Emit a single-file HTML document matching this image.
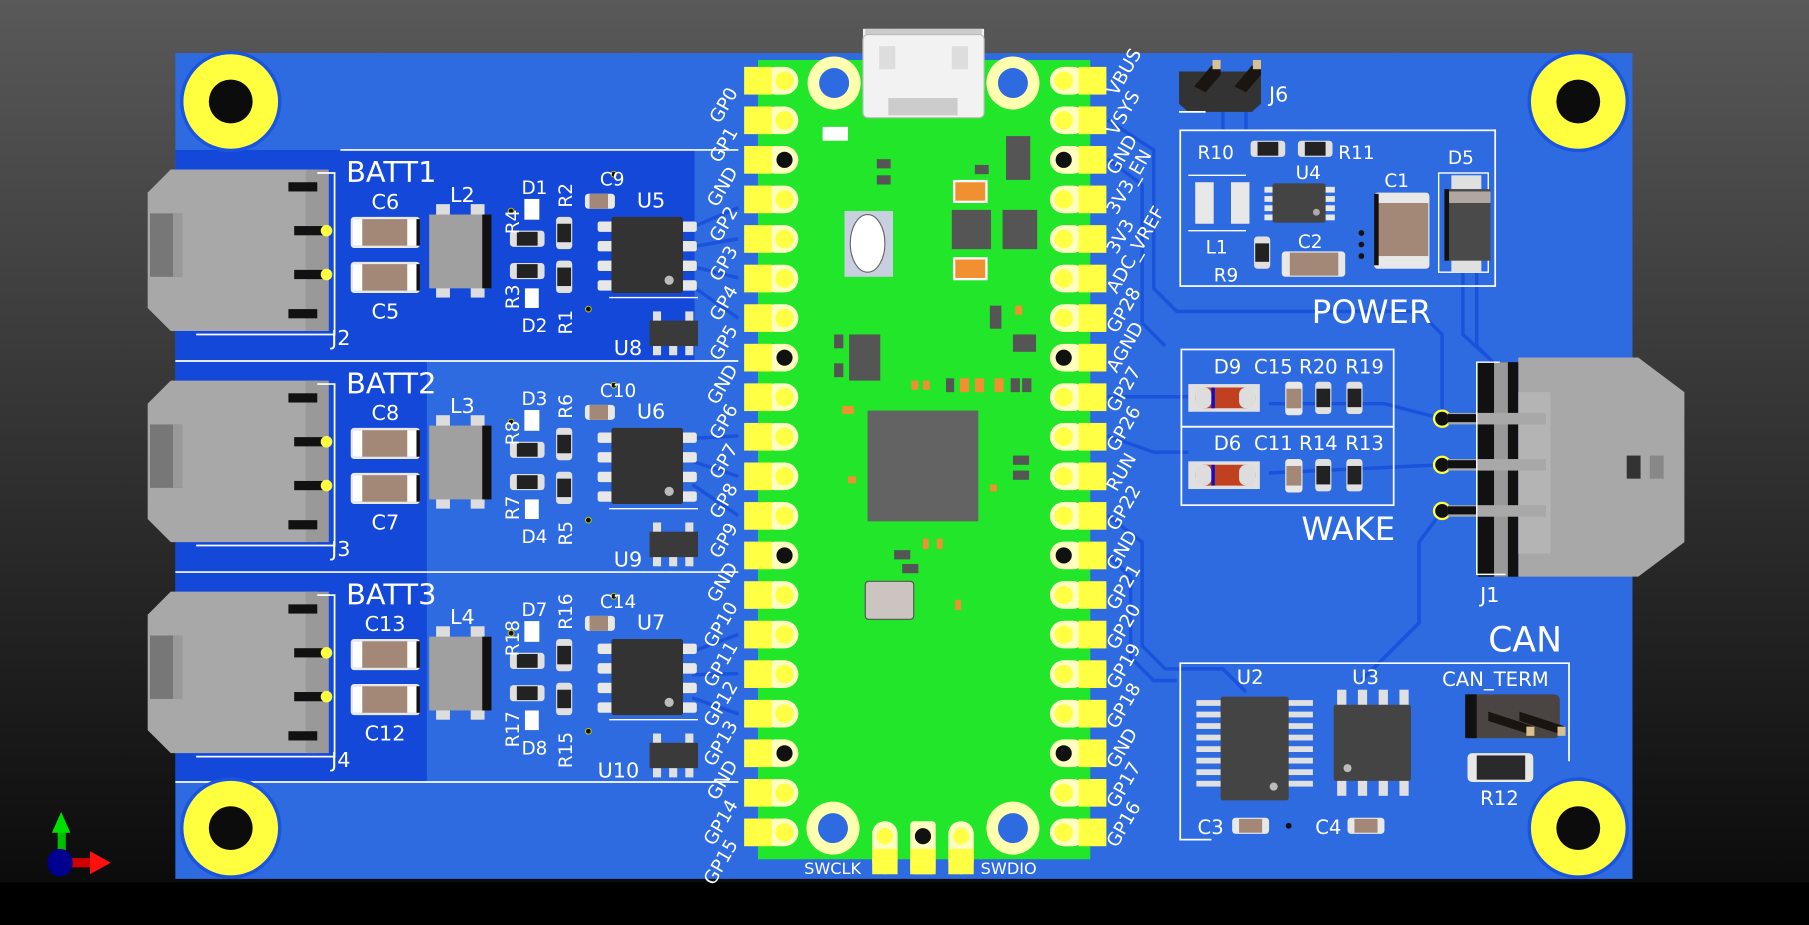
<!DOCTYPE html>
<html><head><meta charset="utf-8"><style>
html,body{margin:0;padding:0;background:#000;}
svg{display:block;}
text{font-family:"DejaVu Sans","Liberation Sans",sans-serif;fill:#fff;}
</style></head><body>
<svg width="1809" height="925" viewBox="0 0 1568 802" preserveAspectRatio="none" xmlns="http://www.w3.org/2000/svg">
<defs>
<linearGradient id="bg" x1="0" y1="0" x2="0" y2="1">
<stop offset="0" stop-color="#595959"/><stop offset="0.95" stop-color="#0c0c0c"/><stop offset="1" stop-color="#000"/>
</linearGradient>
<g id="pl"><rect x="660" y="-12" width="32" height="24" rx="12" fill="#ffffc0"/><rect x="645" y="-12" width="24" height="24" fill="#ffff44"/><circle cx="680" cy="0" r="8" fill="#ffff44"/></g>
<g id="plg"><rect x="660" y="-12" width="32" height="24" rx="12" fill="#ffffc0"/><rect x="645" y="-12" width="24" height="24" fill="#ffff44"/><circle cx="680" cy="0" r="7" fill="#111"/></g>
<g id="pr"><rect x="910" y="-12" width="32" height="24" rx="12" fill="#ffffc0"/><rect x="935" y="-12" width="24" height="24" fill="#ffff44"/><circle cx="922" cy="0" r="8" fill="#ffff44"/></g>
<g id="prg"><rect x="910" y="-12" width="32" height="24" rx="12" fill="#ffffc0"/><rect x="935" y="-12" width="24" height="24" fill="#ffff44"/><circle cx="922" cy="0" r="7" fill="#111"/></g>
<g id="mh"><circle r="44" fill="#1a55e0"/><circle r="41" fill="#ffff40"/><circle r="19" fill="#0c0c0c"/></g>
<g id="capH"><rect x="-2" y="-2" width="60" height="27" rx="3" fill="#e8e8e8"/><rect x="0" y="0" width="55" height="23" fill="#a38878"/><rect x="0" y="0" width="8" height="23" fill="#fff"/><rect x="47" y="0" width="8" height="23" fill="#fff"/><rect x="55" y="0" width="3" height="23" fill="#111"/></g>
<g id="resH"><rect x="0" y="0" width="30" height="14" rx="3" fill="#e0e0e0"/><rect x="6" y="1" width="18" height="12" fill="#222"/></g>
<g id="resV"><rect x="0" y="0" width="14" height="28" rx="3" fill="#e0e0e0"/><rect x="1" y="6" width="12" height="16" fill="#222"/></g>
<g id="soic"><rect x="-12" y="4" width="14" height="9" rx="2" fill="#e8e8e8"/><rect x="-12" y="21" width="14" height="9" rx="2" fill="#e8e8e8"/><rect x="-12" y="38" width="14" height="9" rx="2" fill="#e8e8e8"/><rect x="-12" y="55" width="14" height="9" rx="2" fill="#e8e8e8"/><rect x="60" y="4" width="14" height="9" rx="2" fill="#e8e8e8"/><rect x="60" y="21" width="14" height="9" rx="2" fill="#e8e8e8"/><rect x="60" y="38" width="14" height="9" rx="2" fill="#e8e8e8"/><rect x="60" y="55" width="14" height="9" rx="2" fill="#e8e8e8"/><rect x="0" y="0" width="62" height="66" rx="2" fill="#333"/><circle cx="50" cy="55" r="4" fill="#bbb"/></g>
<g id="sot"><rect x="3" y="-8" width="7" height="10" fill="#e0e0e0"/><rect x="31" y="-8" width="7" height="10" fill="#e0e0e0"/><rect x="3" y="20" width="7" height="10" fill="#e0e0e0"/><rect x="17" y="20" width="7" height="10" fill="#e0e0e0"/><rect x="31" y="20" width="7" height="10" fill="#e0e0e0"/><rect x="0" y="0" width="42" height="22" fill="#3a3a3a"/></g>
<g id="blk">
<polygon points="148,147 275,147 275,287 148,287 128,267 128,167" fill="#a8a8a8"/>
<rect x="130" y="185" width="28" height="55" fill="#777"/><rect x="150" y="185" width="8" height="55" fill="#999"/>
<rect x="265" y="147" width="20" height="140" fill="#999"/>
<rect x="250" y="158" width="25" height="8" fill="#111"/><rect x="255" y="196" width="25" height="8" fill="#111"/><rect x="255" y="234" width="25" height="8" fill="#111"/><rect x="250" y="268" width="25" height="8" fill="#111"/>
<polyline points="275,150 290,150 290,290 170,290" fill="none" stroke="#fff" stroke-width="1.5"/>
<circle cx="283" cy="200" r="5" fill="#ffff40"/><circle cx="283" cy="238" r="5" fill="#ffff40"/>
<use href="#capH" x="306" y="190"/><use href="#capH" x="306" y="229"/>
<rect x="378" y="177" width="12" height="10" fill="#ddd"/><rect x="408" y="177" width="12" height="10" fill="#ddd"/><rect x="378" y="248" width="12" height="10" fill="#ddd"/><rect x="408" y="248" width="12" height="10" fill="#ddd"/>
<rect x="372" y="186" width="52" height="64" fill="#a0a0a0"/><rect x="418" y="186" width="8" height="64" fill="#111"/>
<rect x="455" y="173" width="12" height="17" fill="#fff" stroke="#ffd" stroke-width="1"/>
<rect x="455" y="250" width="12" height="17" fill="#fff"/>
<use href="#resH" x="442" y="200"/><use href="#resH" x="442" y="228"/>
<use href="#resV" x="482" y="188"/><use href="#resV" x="482" y="226"/>
<rect x="507" y="168" width="26" height="13" rx="3" fill="#e8e8e8"/><rect x="511" y="168" width="16" height="13" fill="#a38878"/>
<circle cx="532" cy="151" r="2.5" fill="#111" stroke="#cc0" stroke-width="0.8"/><circle cx="510" cy="268" r="2.5" fill="#111" stroke="#cc0" stroke-width="0.8"/><circle cx="443" cy="183" r="2.5" fill="#111" stroke="#cc0" stroke-width="0.8"/>
<use href="#soic" x="530" y="188"/>
<line x1="528" y1="258" x2="605" y2="258" stroke="#fff" stroke-width="1.2"/>
<use href="#sot" x="563" y="278"/>
</g>
</defs>
<rect width="1568" height="802" fill="url(#bg)"/>
<rect x="0" y="765" width="1568" height="37" fill="#000"/>
<rect x="152" y="46" width="1263" height="716" fill="#2e6be0"/>
<rect x="152" y="130" width="450" height="183" fill="#1448d8"/>
<rect x="152" y="313" width="218" height="183" fill="#1448d8"/>
<rect x="152" y="496" width="218" height="182" fill="#1448d8"/>
<g fill="none" stroke="#1a52dc" stroke-width="3">
<path d="M960,104 L1000,130 L1000,250 L1020,270 L1230,270 L1250,290 L1250,363"/>
<path d="M960,138 L990,160 L990,280 L1010,300"/>
<path d="M960,344 L1030,344"/><path d="M960,378 L1000,392 L1030,392"/>
<path d="M960,447 L990,470 L990,560 L1010,580 L1060,580 L1080,600"/>
<path d="M960,481 L980,500 L980,570 L1000,590 L1020,590"/>
<path d="M1100,350 L1200,350 L1250,363"/><path d="M1100,410 L1250,403"/>
<path d="M1250,443 L1230,470 L1230,540 L1180,590"/>
<path d="M1280,236 L1280,300 L1300,320"/><path d="M1268,236 L1268,290 L1290,310"/>
<path d="M600,197 L640,180"/><path d="M600,214 L640,207"/><path d="M600,231 L640,241"/><path d="M600,248 L640,276"/>
<path d="M600,380 L640,378"/><path d="M600,400 L640,413"/><path d="M600,420 L640,447"/>
<path d="M600,565 L640,550"/><path d="M600,585 L640,584"/><path d="M600,605 L640,619"/>
<path d="M1060,88 L1060,113"/><path d="M1080,88 L1080,113"/>
</g>
<g stroke="#fff" stroke-width="1.5">
<line x1="295" y1="130" x2="640" y2="130"/><line x1="152" y1="313" x2="640" y2="313"/>
<line x1="152" y1="496" x2="640" y2="496"/><line x1="152" y1="678" x2="640" y2="678"/>
</g>
<use href="#mh" x="200" y="88"/><use href="#mh" x="1368" y="88"/><use href="#mh" x="200" y="718"/><use href="#mh" x="1368" y="718"/>
<use href="#blk"/><use href="#blk" y="183"/><use href="#blk" y="366"/>
<g font-size="16">
<text x="300" y="158" font-size="25">BATT1</text><text x="322" y="181" font-size="18">C6</text><text x="322" y="276" font-size="18">C5</text><text x="390" y="175" font-size="18">L2</text>
<text x="452" y="168">D1</text><text x="452" y="288">D2</text><text x="287" y="299" font-size="18">J2</text><text x="552" y="180" font-size="18">U5</text><text x="520" y="161">C9</text><text x="532" y="308" font-size="18">U8</text>
<text transform="translate(450,203) rotate(-90)">R4</text><text transform="translate(450,268) rotate(-90)">R3</text><text transform="translate(496,180) rotate(-90)">R2</text><text transform="translate(496,290) rotate(-90)">R1</text>
<text x="300" y="341" font-size="25">BATT2</text><text x="322" y="364" font-size="18">C8</text><text x="322" y="459" font-size="18">C7</text><text x="390" y="358" font-size="18">L3</text>
<text x="452" y="351">D3</text><text x="452" y="471">D4</text><text x="287" y="482" font-size="18">J3</text><text x="552" y="363" font-size="18">U6</text><text x="520" y="344">C10</text><text x="532" y="491" font-size="18">U9</text>
<text transform="translate(450,386) rotate(-90)">R8</text><text transform="translate(450,451) rotate(-90)">R7</text><text transform="translate(496,363) rotate(-90)">R6</text><text transform="translate(496,473) rotate(-90)">R5</text>
<text x="300" y="524" font-size="25">BATT3</text><text x="316" y="547" font-size="18">C13</text><text x="316" y="642" font-size="18">C12</text><text x="390" y="541" font-size="18">L4</text>
<text x="452" y="534">D7</text><text x="452" y="654">D8</text><text x="287" y="665" font-size="18">J4</text><text x="552" y="546" font-size="18">U7</text><text x="520" y="527">C14</text><text x="518" y="674" font-size="18">U10</text>
<text transform="translate(450,569) rotate(-90)">R18</text><text transform="translate(450,648) rotate(-90)">R17</text><text transform="translate(496,546) rotate(-90)">R16</text><text transform="translate(496,666) rotate(-90)">R15</text>
</g>
<rect x="748" y="25" width="105" height="78" fill="#f0f0f0"/><rect x="750" y="25" width="101" height="8" fill="#ccc"/>
<rect x="657" y="52" width="288" height="693" fill="#22e62a"/>
<rect x="748" y="30" width="105" height="72" rx="4" fill="#f2f2f2" stroke="#bbb"/>
<rect x="762" y="40" width="14" height="20" fill="#ddd"/><rect x="825" y="40" width="14" height="20" fill="#ddd"/>
<rect x="770" y="85" width="60" height="15" fill="#ccc"/>
<circle cx="723" cy="72" r="23" fill="#ffffb0"/><circle cx="723" cy="72" r="13" fill="#2e6be0"/>
<circle cx="878" cy="72" r="23" fill="#ffffb0"/><circle cx="878" cy="72" r="13" fill="#2e6be0"/>
<circle cx="722" cy="718" r="23" fill="#ffffb0"/><circle cx="722" cy="718" r="13" fill="#2e6be0"/>
<circle cx="878" cy="718" r="23" fill="#ffffb0"/><circle cx="878" cy="718" r="13" fill="#2e6be0"/>
<g><rect x="756" y="712" width="22" height="46" rx="11" fill="#ffffc0"/><rect x="756" y="736" width="22" height="22" fill="#ffff44"/><circle cx="767" cy="725" r="7" fill="#ffff44"/>
<rect x="789" y="712" width="22" height="46" rx="3" fill="#ffffc0"/><rect x="789" y="736" width="22" height="22" fill="#ffff44"/><circle cx="800" cy="725" r="7" fill="#111"/>
<rect x="822" y="712" width="22" height="46" rx="11" fill="#ffffc0"/><rect x="822" y="736" width="22" height="22" fill="#ffff44"/><circle cx="833" cy="725" r="7" fill="#ffff44"/></g>
<text x="697" y="758" font-size="14">SWCLK</text><text x="850" y="758" font-size="14">SWDIO</text>
<rect x="713" y="110" width="22" height="12" fill="#fff"/>
<rect x="760" y="138" width="12" height="8" fill="#555"/><rect x="760" y="152" width="12" height="8" fill="#555"/><rect x="845" y="143" width="12" height="8" fill="#555"/>
<rect x="872" y="118" width="21" height="38" fill="#555"/>
<rect x="827" y="157" width="28" height="18" fill="#f09030" stroke="#fff" stroke-width="2"/><rect x="827" y="224" width="28" height="18" fill="#f09030" stroke="#fff" stroke-width="2"/>
<rect x="825" y="182" width="34" height="34" fill="#555"/><rect x="869" y="182" width="30" height="34" fill="#555"/>
<rect x="732" y="183" width="42" height="57" fill="#c8d0e0"/><ellipse cx="752" cy="211" rx="15" ry="25" fill="#fff" stroke="#666"/>
<rect x="736" y="290" width="27" height="40" fill="#555"/><rect x="723" y="290" width="8" height="12" fill="#555"/><rect x="723" y="315" width="8" height="12" fill="#555"/>
<rect x="858" y="265" width="10" height="20" fill="#555"/><rect x="878" y="290" width="20" height="15" fill="#555"/><rect x="880" y="265" width="6" height="8" fill="#f09030"/>
<rect x="752" y="356" width="96" height="96" fill="#636363"/>
<g fill="#f09030"><rect x="790" y="330" width="6" height="8"/><rect x="800" y="330" width="6" height="8"/><rect x="832" y="328" width="8" height="12"/><rect x="845" y="328" width="8" height="12"/><rect x="862" y="328" width="8" height="12"/><rect x="730" y="352" width="10" height="7"/><rect x="735" y="413" width="7" height="6"/><rect x="858" y="420" width="6" height="6"/><rect x="800" y="467" width="5" height="9"/><rect x="812" y="467" width="5" height="9"/><rect x="828" y="520" width="5" height="9"/></g>
<g fill="#555"><rect x="820" y="328" width="7" height="12"/><rect x="876" y="328" width="8" height="12"/><rect x="886" y="328" width="8" height="12"/><rect x="878" y="395" width="14" height="8"/><rect x="878" y="408" width="14" height="8"/><rect x="775" y="477" width="14" height="8"/><rect x="782" y="489" width="14" height="8"/></g>
<rect x="750" y="504" width="42" height="33" rx="3" fill="#ccc4c0" stroke="#555"/>
<use href="#pl" y="70"/><use href="#pl" y="104.3"/><use href="#plg" y="138.6"/><use href="#pl" y="172.9"/><use href="#pl" y="207.2"/><use href="#pl" y="241.5"/><use href="#pl" y="275.8"/><use href="#plg" y="310.1"/><use href="#pl" y="344.4"/><use href="#pl" y="378.7"/><use href="#pl" y="413"/><use href="#pl" y="447.3"/><use href="#plg" y="481.6"/><use href="#pl" y="515.9"/><use href="#pl" y="550.2"/><use href="#pl" y="584.5"/><use href="#pl" y="618.8"/><use href="#plg" y="653.1"/><use href="#pl" y="687.4"/><use href="#pl" y="721.7"/>
<use href="#pr" y="70"/><use href="#pr" y="104.3"/><use href="#prg" y="138.6"/><use href="#pr" y="172.9"/><use href="#pr" y="207.2"/><use href="#pr" y="241.5"/><use href="#pr" y="275.8"/><use href="#prg" y="310.1"/><use href="#pr" y="344.4"/><use href="#pr" y="378.7"/><use href="#pr" y="413"/><use href="#pr" y="447.3"/><use href="#prg" y="481.6"/><use href="#pr" y="515.9"/><use href="#pr" y="550.2"/><use href="#pr" y="584.5"/><use href="#pr" y="618.8"/><use href="#prg" y="653.1"/><use href="#pr" y="687.4"/><use href="#pr" y="721.7"/>
<g font-size="16" text-anchor="end">
<text transform="translate(640,80) rotate(-60)">GP0</text><text transform="translate(640,114.3) rotate(-60)">GP1</text><text transform="translate(640,148.6) rotate(-60)">GND</text><text transform="translate(640,182.9) rotate(-60)">GP2</text><text transform="translate(640,217.2) rotate(-60)">GP3</text><text transform="translate(640,251.5) rotate(-60)">GP4</text><text transform="translate(640,285.8) rotate(-60)">GP5</text><text transform="translate(640,320.1) rotate(-60)">GND</text><text transform="translate(640,354.4) rotate(-60)">GP6</text><text transform="translate(640,388.7) rotate(-60)">GP7</text><text transform="translate(640,423) rotate(-60)">GP8</text><text transform="translate(640,457.3) rotate(-60)">GP9</text><text transform="translate(640,491.6) rotate(-60)">GND</text><text transform="translate(640,525.9) rotate(-60)">GP10</text><text transform="translate(640,560.2) rotate(-60)">GP11</text><text transform="translate(640,594.5) rotate(-60)">GP12</text><text transform="translate(640,628.8) rotate(-60)">GP13</text><text transform="translate(640,663.1) rotate(-60)">GND</text><text transform="translate(640,697.4) rotate(-60)">GP14</text><text transform="translate(640,731.7) rotate(-60)">GP15</text>
</g>
<g font-size="16">
<text transform="translate(968,84) rotate(-60)">VBUS</text><text transform="translate(968,118.3) rotate(-60)">VSYS</text><text transform="translate(968,152.6) rotate(-60)">GND</text><text transform="translate(968,186.9) rotate(-60)">3V3_EN</text><text transform="translate(968,221.2) rotate(-60)">3V3</text><text transform="translate(968,255.5) rotate(-60)">ADC_VREF</text><text transform="translate(968,289.8) rotate(-60)">GP28</text><text transform="translate(968,324.1) rotate(-60)">AGND</text><text transform="translate(968,358.4) rotate(-60)">GP27</text><text transform="translate(968,392.7) rotate(-60)">GP26</text><text transform="translate(968,427) rotate(-60)">RUN</text><text transform="translate(968,461.3) rotate(-60)">GP22</text><text transform="translate(968,495.6) rotate(-60)">GND</text><text transform="translate(968,529.9) rotate(-60)">GP21</text><text transform="translate(968,564.2) rotate(-60)">GP20</text><text transform="translate(968,598.5) rotate(-60)">GP19</text><text transform="translate(968,632.8) rotate(-60)">GP18</text><text transform="translate(968,667.1) rotate(-60)">GND</text><text transform="translate(968,701.4) rotate(-60)">GP17</text><text transform="translate(968,735.7) rotate(-60)">GP16</text>
</g>
<polygon points="1022,62 1093,62 1093,90 1085,97 1030,97 1022,90" fill="#333"/>
<polygon points="1035,75 1050,57 1058,57 1058,65 1045,80" fill="#1a1510"/><polygon points="1070,75 1085,57 1093,57 1093,65 1080,80" fill="#1a1510"/>
<rect x="1051" y="52" width="7" height="8" fill="#d8c090"/><rect x="1086" y="52" width="7" height="8" fill="#d8c090"/>
<polyline points="1022,97 1045,97" stroke="#fff" stroke-width="1.5"/>
<text x="1100" y="88" font-size="18">J6</text>
<rect x="1023" y="113" width="273" height="135" fill="none" stroke="#fff" stroke-width="1.5"/>
<g font-size="16"><text x="1038" y="138">R10</text><text x="1160" y="138">R11</text><text x="1123" y="155">U4</text><text x="1045" y="220">L1</text><text x="1052" y="244">R9</text><text x="1125" y="215">C2</text><text x="1200" y="162">C1</text><text x="1255" y="142">D5</text></g>
<use href="#resH" x="1084" y="122"/><use href="#resH" x="1125" y="122"/>
<rect x="1036" y="158" width="16" height="36" fill="#e8e8e8"/><rect x="1067" y="158" width="16" height="36" fill="#e8e8e8"/>
<line x1="1030" y1="152" x2="1080" y2="152" stroke="#fff" stroke-width="1.2"/><line x1="1030" y1="200" x2="1080" y2="200" stroke="#fff" stroke-width="1.2"/>
<g fill="#e8e8e8"><rect x="1096" y="162" width="10" height="5"/><rect x="1096" y="170" width="10" height="5"/><rect x="1096" y="178" width="10" height="5"/><rect x="1096" y="186" width="10" height="5"/><rect x="1147" y="162" width="10" height="5"/><rect x="1147" y="170" width="10" height="5"/><rect x="1147" y="178" width="10" height="5"/><rect x="1147" y="186" width="10" height="5"/></g>
<rect x="1103" y="159" width="46" height="34" rx="2" fill="#444"/><circle cx="1141" cy="184" r="3" fill="#aaa"/>
<use href="#resV" x="1087" y="205"/>
<rect x="1111" y="218" width="55" height="22" rx="3" fill="#e8e8e8"/><rect x="1118" y="219" width="42" height="20" fill="#a38878"/>
<rect x="1191" y="167" width="48" height="66" rx="3" fill="#e8e8e8"/><rect x="1192" y="176" width="46" height="46" fill="#a38878"/><rect x="1191" y="168" width="4" height="62" fill="#111"/>
<rect x="1247" y="150" width="43" height="86" fill="none" stroke="#fff" stroke-width="1.2"/>
<rect x="1258" y="152" width="26" height="12" fill="#e0e0e0"/><rect x="1258" y="224" width="26" height="12" fill="#e0e0e0"/>
<rect x="1252" y="164" width="40" height="62" fill="#4a4a4a"/><rect x="1256" y="166" width="36" height="10" fill="#b0a8a0"/><rect x="1252" y="164" width="4" height="62" fill="#111"/>
<circle cx="1180" cy="202" r="2.5" fill="#111"/><circle cx="1180" cy="212" r="2.5" fill="#111"/><circle cx="1180" cy="222" r="2.5" fill="#111"/>
<text x="1137" y="280" font-size="28">POWER</text>
<rect x="1024" y="303" width="184" height="67" fill="none" stroke="#fff" stroke-width="1.5"/><rect x="1024" y="370" width="184" height="68" fill="none" stroke="#fff" stroke-width="1.5"/>
<g font-size="17"><text x="1052" y="324">D9</text><text x="1087" y="324">C15</text><text x="1126" y="324">R20</text><text x="1166" y="324">R19</text>
<text x="1052" y="390">D6</text><text x="1087" y="390">C11</text><text x="1126" y="390">R14</text><text x="1166" y="390">R13</text></g>
<g id="wr"><rect x="1030" y="333" width="62" height="24" fill="#e0e0e0"/><rect x="1036" y="336" width="52" height="18" rx="8" fill="#c04020"/><rect x="1036" y="336" width="14" height="18" rx="6" fill="#ddd"/><rect x="1074" y="336" width="14" height="18" rx="6" fill="#ddd"/><rect x="1050" y="336" width="3" height="18" fill="#1010c0"/>
<rect x="1114" y="331" width="15" height="29" rx="3" fill="#e8e8e8"/><rect x="1115" y="337" width="13" height="17" fill="#a38878"/>
<use href="#resV" x="1140" y="331"/><use href="#resV" x="1167" y="331"/></g>
<use href="#wr" y="67"/>
<text x="1128" y="468" font-size="28">WAKE</text>
<circle cx="1250" cy="363" r="7" fill="#111" stroke="#ffff40" stroke-width="2"/><circle cx="1250" cy="403" r="7" fill="#111" stroke="#ffff40" stroke-width="2"/><circle cx="1250" cy="443" r="7" fill="#111" stroke="#ffff40" stroke-width="2"/>
<polygon points="1316,310 1420,310 1460,340 1460,470 1420,500 1316,500" fill="#a8a8a8"/>
<rect x="1281" y="314" width="35" height="186" fill="#111"/><rect x="1295" y="314" width="12" height="186" fill="#999"/>
<rect x="1316" y="340" width="28" height="140" fill="#b4b4b4"/>
<rect x="1255" y="358" width="85" height="10" fill="#a8a8a8"/><rect x="1255" y="398" width="85" height="10" fill="#a8a8a8"/><rect x="1255" y="438" width="85" height="10" fill="#a8a8a8"/>
<rect x="1255" y="359" width="25" height="7" fill="#111"/><rect x="1255" y="399" width="25" height="7" fill="#111"/><rect x="1255" y="439" width="25" height="7" fill="#111"/>
<rect x="1410" y="395" width="12" height="20" fill="#333"/><rect x="1430" y="395" width="12" height="20" fill="#888"/>
<polyline points="1300,314 1280,314 1280,498 1305,498" fill="none" stroke="#fff" stroke-width="1.2"/>
<text x="1283" y="522" font-size="18">J1</text>
<text x="1290" y="565" font-size="30">CAN</text>
<polyline points="1050,728 1023,728 1023,575 1360,575 1360,660" fill="none" stroke="#fff" stroke-width="1.5"/>
<g font-size="17"><text x="1072" y="593">U2</text><text x="1172" y="593">U3</text><text x="1250" y="595">CAN_TERM</text><text x="1283" y="698">R12</text><text x="1038" y="723">C3</text><text x="1140" y="723">C4</text></g>
<g fill="#e0e0e0"><rect x="1037" y="607" width="24" height="5"/><rect x="1037" y="617" width="24" height="5"/><rect x="1037" y="627" width="24" height="5"/><rect x="1037" y="637" width="24" height="5"/><rect x="1037" y="647" width="24" height="5"/><rect x="1037" y="657" width="24" height="5"/><rect x="1037" y="667" width="24" height="5"/><rect x="1037" y="677" width="24" height="5"/>
<rect x="1114" y="607" width="24" height="5"/><rect x="1114" y="617" width="24" height="5"/><rect x="1114" y="627" width="24" height="5"/><rect x="1114" y="637" width="24" height="5"/><rect x="1114" y="647" width="24" height="5"/><rect x="1114" y="657" width="24" height="5"/><rect x="1114" y="667" width="24" height="5"/><rect x="1114" y="677" width="24" height="5"/></g>
<rect x="1058" y="604" width="59" height="90" rx="2" fill="#444"/><circle cx="1104" cy="682" r="3.5" fill="#bbb"/>
<g fill="#e0e0e0"><rect x="1159" y="598" width="8" height="15"/><rect x="1177" y="598" width="8" height="15"/><rect x="1195" y="598" width="8" height="15"/><rect x="1213" y="598" width="8" height="15"/><rect x="1159" y="675" width="8" height="15"/><rect x="1177" y="675" width="8" height="15"/><rect x="1195" y="675" width="8" height="15"/><rect x="1213" y="675" width="8" height="15"/></g>
<rect x="1156" y="611" width="67" height="66" rx="2" fill="#444"/><circle cx="1168" cy="666" r="3.5" fill="#bbb"/>
<rect x="1270" y="602" width="82" height="38" rx="5" fill="#4a4542"/><rect x="1270" y="602" width="10" height="38" fill="#111"/>
<polygon points="1290,617 1330,630 1330,638 1290,625" fill="#1a1510"/><polygon points="1317,617 1357,630 1357,638 1317,625" fill="#1a1510"/>
<rect x="1323" y="630" width="7" height="8" fill="#d8c090"/><rect x="1350" y="630" width="7" height="8" fill="#d8c090"/>
<rect x="1272" y="653" width="57" height="25" rx="4" fill="#e8e8e8"/><rect x="1280" y="655" width="42" height="21" fill="#2a2a2a"/>
<rect x="1068" y="709" width="32" height="14" rx="3" fill="#e8e8e8"/><rect x="1074" y="710" width="20" height="12" fill="#a38878"/>
<rect x="1168" y="709" width="32" height="14" rx="3" fill="#e8e8e8"/><rect x="1174" y="710" width="20" height="12" fill="#a38878"/>
<circle cx="1117" cy="716" r="2.5" fill="#111"/>
<rect x="50" y="720" width="7" height="28" fill="#00c000"/><polygon points="45,722 53,704 61,722" fill="#00e000"/>
<rect x="55" y="744" width="24" height="8" fill="#d00000"/><polygon points="78,738 96,748 78,758" fill="#ff1010"/>
<ellipse cx="52" cy="748" rx="11" ry="12" fill="#000090"/>
</svg>
</body></html>
